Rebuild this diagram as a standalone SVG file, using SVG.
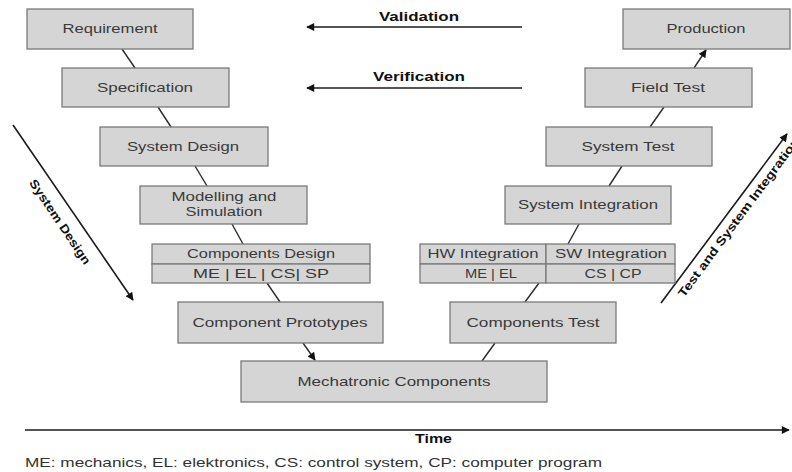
<svg xmlns="http://www.w3.org/2000/svg" width="792" height="472" viewBox="0 0 792 472">
<style>
.box{fill:#d5d5d5;stroke:#7a7a7a;stroke-width:1.3}
.t{font-family:"Liberation Sans",Arial,sans-serif;font-size:13px;fill:#3a3a3a;text-anchor:middle}
.b{font-family:"Liberation Sans",Arial,sans-serif;font-size:12px;font-weight:bold;fill:#111}
.c{stroke:#2a2a2a;stroke-width:1.4;fill:none}
.a{stroke:#1a1a1a;stroke-width:1.6;fill:none}
</style>
<defs>
<marker id="ah" viewBox="0 0 10 10" refX="9" refY="5" markerWidth="11" markerHeight="8" orient="auto" markerUnits="userSpaceOnUse">
<path d="M0,0 L10,5 L0,10 z" fill="#111"/>
</marker>
</defs>
<rect width="792" height="472" fill="#ffffff"/>

<g id="connectors">
<line class="c" x1="122" y1="49" x2="135" y2="68"/>
<line class="c" x1="158" y1="107" x2="171" y2="127"/>
<line class="c" x1="195" y1="166" x2="207" y2="186"/>
<line class="c" x1="232" y1="224" x2="243" y2="244"/>
<line class="c" x1="267" y1="283" x2="280" y2="302"/>
<line class="c" x1="303" y1="343" x2="315" y2="360" marker-end="url(#ah)"/>
<line class="c" x1="495" y1="343" x2="482" y2="361"/>
<line class="c" x1="539" y1="283" x2="525" y2="302"/>
<line class="c" x1="579" y1="224" x2="568" y2="244"/>
<line class="c" x1="622" y1="166" x2="609" y2="186"/>
<line class="c" x1="664" y1="107" x2="650" y2="127"/>
<line class="c" x1="694" y1="68" x2="706" y2="50" marker-end="url(#ah)"/>
<line class="a" x1="522" y1="27" x2="307" y2="27" marker-end="url(#ah)"/>
<line class="a" x1="522" y1="88" x2="307" y2="88" marker-end="url(#ah)"/>
<line class="a" x1="13" y1="125" x2="133" y2="300" marker-end="url(#ah)"/>
<line class="a" x1="661" y1="303" x2="787" y2="134" marker-end="url(#ah)"/>
<line class="a" x1="25" y1="430" x2="789" y2="430" stroke-width="2" marker-end="url(#ah)"/>
</g>

<g id="requirement"><rect class="box" x="27" y="9" width="166" height="40"/><text class="t" x="110" y="33" textLength="95" lengthAdjust="spacingAndGlyphs">Requirement</text></g>
<g id="specification"><rect class="box" x="62" y="68" width="167" height="39"/><text class="t" x="145" y="92" textLength="96" lengthAdjust="spacingAndGlyphs">Specification</text></g>
<g id="system-design"><rect class="box" x="100" y="127" width="168" height="39"/><text class="t" x="183" y="151" textLength="112" lengthAdjust="spacingAndGlyphs">System Design</text></g>
<g id="modelling"><rect class="box" x="140" y="186" width="167" height="38"/><text class="t" x="224" y="201" textLength="105" lengthAdjust="spacingAndGlyphs">Modelling and</text><text class="t" x="224" y="216" textLength="77" lengthAdjust="spacingAndGlyphs">Simulation</text></g>
<g id="components-design"><rect class="box" x="152" y="244" width="218" height="20"/><rect class="box" x="152" y="264" width="218" height="19"/><text class="t" x="261" y="258" textLength="148" lengthAdjust="spacingAndGlyphs">Components Design</text><text class="t" x="261" y="278" textLength="136" lengthAdjust="spacingAndGlyphs">ME | EL | CS| SP</text></g>
<g id="component-prototypes"><rect class="box" x="178" y="302" width="205" height="41"/><text class="t" x="280" y="327" textLength="175" lengthAdjust="spacingAndGlyphs">Component Prototypes</text></g>
<g id="mechatronic-components"><rect class="box" x="241" y="361" width="306" height="41"/><text class="t" x="394" y="386" textLength="193" lengthAdjust="spacingAndGlyphs">Mechatronic Components</text></g>
<g id="components-test"><rect class="box" x="450" y="302" width="166" height="41"/><text class="t" x="533" y="327" textLength="133" lengthAdjust="spacingAndGlyphs">Components Test</text></g>
<g id="hw-sw-integration"><rect class="box" x="420" y="244" width="126" height="20"/><rect class="box" x="546" y="244" width="129" height="20"/><rect class="box" x="420" y="264" width="126" height="19"/><rect class="box" x="546" y="264" width="129" height="19"/><text class="t" x="483" y="258" textLength="111" lengthAdjust="spacingAndGlyphs">HW Integration</text><text class="t" x="611" y="258" textLength="112" lengthAdjust="spacingAndGlyphs">SW Integration</text><text class="t" x="491" y="278" textLength="52" lengthAdjust="spacingAndGlyphs">ME | EL</text><text class="t" x="613" y="278" textLength="57" lengthAdjust="spacingAndGlyphs">CS | CP</text></g>
<g id="system-integration"><rect class="box" x="505" y="186" width="166" height="38"/><text class="t" x="588" y="209" textLength="140" lengthAdjust="spacingAndGlyphs">System Integration</text></g>
<g id="system-test"><rect class="box" x="546" y="127" width="166" height="39"/><text class="t" x="628" y="151" textLength="93" lengthAdjust="spacingAndGlyphs">System Test</text></g>
<g id="field-test"><rect class="box" x="585" y="68" width="167" height="39"/><text class="t" x="668" y="92" textLength="74" lengthAdjust="spacingAndGlyphs">Field Test</text></g>
<g id="production"><rect class="box" x="623" y="9" width="167" height="40"/><text class="t" x="706" y="33" textLength="79" lengthAdjust="spacingAndGlyphs">Production</text></g>

<g id="labels">
<text class="b" x="379" y="21" textLength="80" lengthAdjust="spacingAndGlyphs">Validation</text>
<text class="b" x="373" y="81" textLength="92" lengthAdjust="spacingAndGlyphs">Verification</text>
<text class="b" transform="translate(60,222) rotate(56)" text-anchor="middle" y="4" textLength="100" lengthAdjust="spacingAndGlyphs">System Design</text>
<text class="b" transform="translate(684,298) rotate(-53.5)" textLength="195" lengthAdjust="spacingAndGlyphs">Test and System Integration</text>
<text class="b" x="415" y="443" textLength="37" lengthAdjust="spacingAndGlyphs">Time</text>
<text x="25" y="467" font-family="'Liberation Sans',Arial,sans-serif" font-size="13" fill="#333" textLength="577" lengthAdjust="spacingAndGlyphs">ME: mechanics, EL: elektronics, CS: control system,  CP: computer program</text>
</g>
</svg>
